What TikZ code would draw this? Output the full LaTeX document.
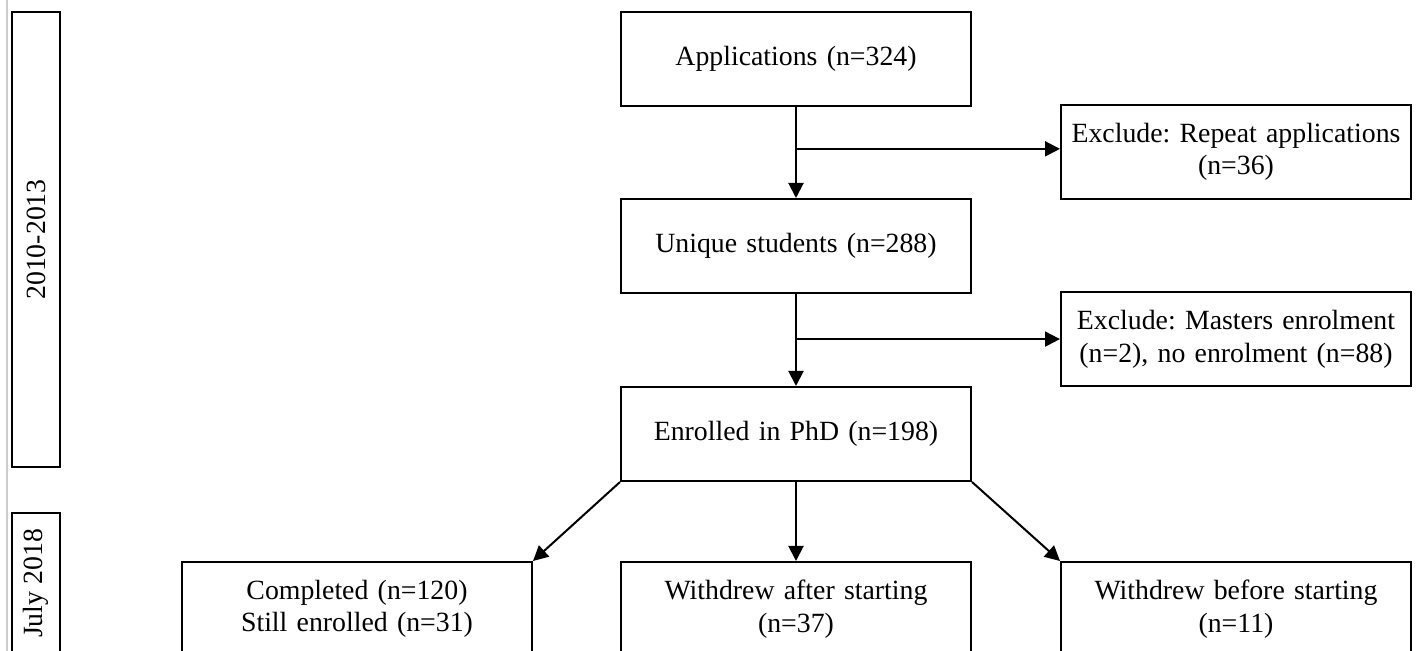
\documentclass[tikz,border=0pt]{standalone}
\usepackage{fontspec}
\setmainfont{Liberation Serif}
\frenchspacing
\usetikzlibrary{positioning,arrows.meta,calc}

\tikzstyle{block} = [rectangle, draw, line width=1pt, text width=171pt, inner sep=2pt, align=center, minimum height=47pt, font=\fontsize{13.9}{16.3}\selectfont]
\tikzstyle{period} = [rectangle, draw, line width=1pt, rotate=90, minimum height=24pt, inner sep=0pt, font=\fontsize{13.9}{16.3}\selectfont]
\tikzstyle{line} = [draw, line width=1pt, -{Triangle[length=7.5pt,width=7.5pt]}]

\begin{document}
\begin{tikzpicture}[node distance = 45.5pt, auto]
\useasboundingbox (0,0) rectangle (710pt,-325.5pt);
\draw [black!20, line width=0.6pt] (3.5pt,0) -- (3.5pt,-325.5pt);
% Periods
\node [period, minimum width=227.5pt] (Years) at (18pt,-119.75pt) {2010-2013};
\node [period, minimum width=70.5pt] (Census) at (18pt,-291.75pt) {July 2018};
% Main column
\node [block] (Apps) at (398pt,-29.5pt) {Applications (n=324)};
\node [block, below=of Apps] (Unique) {Unique students (n=288)};
\node [block, below=46pt of Unique] (Enrol) {Enrolled in PhD (n=198)};
\node [block, below=39.5pt of Enrol] (After) {Withdrew after starting\\(n=37)};
\node [block, left=43.5pt of After] (Done) {Completed (n=120)\\Still enrolled (n=31)};
\node [block, right=44pt of After] (Before) {Withdrew before starting\\(n=11)};
% Exclusions
\node [block, right=44pt of Apps, yshift=-46.5pt] (Repeat) {Exclude: Repeat applications\\(n=36)};
\node [block, right=44pt of Unique, yshift=-46.75pt] (Masters) {Exclude: Masters enrolment\\(n=2), no enrolment (n=88)};
\coordinate (Split1) at ($(Apps.south)!0.46!(Unique.north)$);
\coordinate (Split2) at ($(Unique.south)!0.49!(Enrol.north)$);
% Paths
\path [line] (Apps) -- (Unique);
\path [line] (Unique) -- (Enrol);
\path [line] (Split1) -- (Split1 -| Repeat.west);
\path [line] (Split2) -- (Split2 -| Masters.west);
\path [line] (Enrol) -- (After);
\path [line] (Enrol.south west) -- (Done.north east);
\path [line] (Enrol.south east) -- (Before.north west);
\end{tikzpicture}
\end{document}
